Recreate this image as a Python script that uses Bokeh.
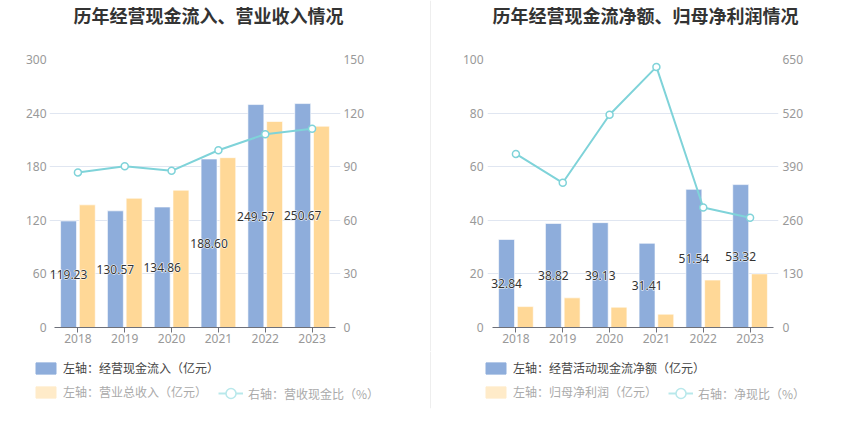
from bokeh.plotting import figure
from bokeh.models import (Range1d, LinearAxis, FixedTicker, FactorRange, ColumnDataSource,
                          Legend, LegendItem, Label, Spacer, Span)
from bokeh.transform import dodge
from bokeh.core.properties import value
from bokeh.layouts import row, column
from bokeh.embed import file_html
from bokeh.resources import INLINE

# ---------------- data ----------------
years = ["2018", "2019", "2020", "2021", "2022", "2023"]

cash_inflow = [119.23, 130.57, 134.86, 188.60, 249.57, 250.67]   # 经营现金流入（亿元）
revenue = [137.3, 144.7, 153.7, 190.1, 230.6, 225.3]              # 营业总收入（亿元）
cash_ratio = [86.8, 90.2, 87.7, 99.2, 108.2, 111.3]               # 营收现金比（%）

net_cash_flow = [32.84, 38.82, 39.13, 31.41, 51.54, 53.32]        # 经营活动现金流净额（亿元）
net_profit = [7.80, 11.06, 7.58, 4.97, 17.70, 20.00]              # 归母净利润（亿元）
net_ratio = [421, 351, 516, 632, 291, 266]                        # 净现比（%）

left_ticks_1 = [0, 60, 120, 180, 240, 300]
right_ticks_1 = [0, 30, 60, 90, 120, 150]
left_ticks_2 = [0, 20, 40, 60, 80, 100]
right_ticks_2 = [0, 130, 260, 390, 520, 650]

title_1 = "历年经营现金流入、营业收入情况"
title_2 = "历年经营现金流净额、归母净利润情况"
legend_1 = ["左轴：经营现金流入（亿元）", "左轴：营业总收入（亿元）", "右轴：营收现金比（%）"]
legend_2 = ["左轴：经营活动现金流净额（亿元）", "左轴：归母净利润（亿元）", "右轴：净现比（%）"]

BLUE = "#8eaddb"
ORANGE = "#ffd897"
CYAN = "#7fd3d9"
FADE_ORANGE = "#ffebc9"
FADE_CYAN = "#b8e8eb"
GRID = "#e0e6f1"
DIVIDER = "#eeeeee"
CJK = "Noto Sans CJK SC"

W = 850
TITLE_H = 40
CHART_H = 311
LEG_H = 86
LEG_BOTTOM = 29
B_TOP = 19
B_BOTTOM = 24
DIV_X = 430
PAD = 0.107          # small outer padding of the category axis (in category units)


def blank_fig(height, x_range, bottom=0):
    f = figure(width=W, height=height, x_range=x_range, y_range=Range1d(0, 1),
               x_axis_type=None, y_axis_type=None, output_backend="svg",
               toolbar_location=None, min_border=0, min_border_left=0,
               min_border_right=0, min_border_top=0, min_border_bottom=bottom)
    f.outline_line_color = None
    f.background_fill_color = "white"
    f.border_fill_color = "white"
    f.add_layout(Span(location=DIV_X, location_units="screen", dimension="height",
                      line_color=DIVIDER, line_width=1))
    return f


def make_chart(width, b_left, b_right, standoff, bars_a, bars_b, ratio, lticks, rticks):
    p = figure(width=width, height=CHART_H,
               x_range=FactorRange(*years, range_padding=PAD, range_padding_units="absolute"),
               y_range=Range1d(lticks[0], lticks[-1]),
               output_backend="svg", toolbar_location=None,
               min_border_left=b_left, min_border_right=b_right,
               min_border_top=B_TOP, min_border_bottom=B_BOTTOM)
    p.outline_line_color = None
    p.background_fill_color = "white"
    p.border_fill_color = "white"
    p.extra_y_ranges = {"right": Range1d(rticks[0], rticks[-1])}

    src = ColumnDataSource(dict(
        year=years, a=bars_a, b=bars_b, r=ratio,
        mid=[v / 2 for v in bars_a],
        lab=[f"{v:.2f}" for v in bars_a],
    ))

    yl = p.yaxis[0]
    yl.ticker = FixedTicker(ticks=lticks)
    ry = LinearAxis(y_range_name="right", ticker=FixedTicker(ticks=rticks))
    p.add_layout(ry, "right")
    for ax in (yl, ry):
        ax.axis_line_color = None
        ax.major_tick_line_color = None
        ax.minor_tick_line_color = None
        ax.major_tick_in = 0
        ax.major_tick_out = 0
        ax.major_label_standoff = standoff
        ax.major_label_text_font_size = "12px"
        ax.major_label_text_color = "#999999"
        ax.major_label_text_font = "Noto Sans"
    xa = p.xaxis[0]
    xa.bounds = (0, len(years))
    xa.axis_line_color = "#6e7079"
    xa.major_tick_line_color = "#6e7079"
    xa.major_tick_in = 0
    xa.major_tick_out = 5
    xa.minor_tick_line_color = None
    xa.major_label_standoff = 1
    xa.major_label_text_font_size = "12px"
    xa.major_label_text_color = "#999999"
    xa.major_label_text_font = "Noto Sans"

    p.xgrid.grid_line_color = None
    p.ygrid.ticker = FixedTicker(ticks=lticks)
    p.ygrid.grid_line_color = GRID

    p.vbar(x=dodge("year", -0.2, range=p.x_range), top="a", width=0.34,
           source=src, fill_color=BLUE, line_color="white", line_alpha=0.6, line_width=1)
    p.vbar(x=dodge("year", 0.2, range=p.x_range), top="b", width=0.34,
           source=src, fill_color=ORANGE, line_color="white", line_alpha=0.6, line_width=1)

    p.line(x="year", y="r", source=src, y_range_name="right", line_color=CYAN, line_width=2)
    p.scatter(x="year", y="r", source=src, y_range_name="right", marker="circle", size=7,
              fill_color="white", line_color=CYAN, line_width=1.5)

    # value labels: white halo underneath, dark text on top
    p.text(x=dodge("year", -0.2, range=p.x_range), y="mid", text="lab", source=src,
           text_font=value("Noto Sans"), text_font_size="12px", text_color="white",
           text_align="center", text_baseline="middle", text_outline_color="white")
    p.text(x=dodge("year", -0.2, range=p.x_range), y="mid", text="lab", source=src,
           text_font=value("Noto Sans"), text_font_size="12px", text_color="#333333",
           text_align="center", text_baseline="middle")
    return p


# ---- title strip ----
tfig = blank_fig(TITLE_H, Range1d(0, 1))
for txt, tx in ((title_1, 73), (title_2, 492)):
    tfig.add_layout(Label(x=tx, y=TITLE_H - 14, x_units="screen", y_units="screen",
                          text=txt, text_font=CJK, text_font_size="18px",
                          text_font_style="bold", text_color="#333333",
                          text_align="left", text_baseline="middle"))

# ---- charts ----
p1 = make_chart(430, 49, 90, 3, cash_inflow, revenue, cash_ratio, left_ticks_1, right_ticks_1)
p2 = make_chart(419, 56, 72, 4, net_cash_flow, net_profit, net_ratio, left_ticks_2, right_ticks_2)
divider = Spacer(width=1, height=CHART_H, styles={"background-color": DIVIDER})

# ---- legend strip (proxy renderers are hidden; they only supply the swatches) ----
lfig = blank_fig(LEG_H, FactorRange(*years), bottom=LEG_BOTTOM)
common = dict(orientation="horizontal", padding=0, margin=0, spacing=16,
              label_standoff=5, glyph_width=25, border_line_color=None,
              background_fill_alpha=0, inactive_fill_alpha=0,
              label_text_font=CJK, label_text_font_size="12px")
for bars_a, bars_b, ratio, labels, lx, line_x in (
        (cash_inflow, revenue, cash_ratio, legend_1, 33, 218),
        (net_cash_flow, net_profit, net_ratio, legend_2, 483, 668)):
    s = ColumnDataSource(dict(year=years, a=bars_a, b=bars_b, r=ratio))
    sa = lfig.vbar(x="year", top="a", width=0.3, source=s, fill_color=BLUE,
                   line_color=BLUE, visible=False)
    sb = lfig.vbar(x="year", top="b", width=0.3, source=s, fill_color=FADE_ORANGE,
                   line_color=FADE_ORANGE, visible=False)
    sl = lfig.line(x="year", y="r", source=s, line_color=FADE_CYAN, line_width=2, visible=False)
    ss = lfig.scatter(x="year", y="r", source=s, marker="circle", size=10, fill_color="white",
                      line_color=FADE_CYAN, line_width=1.5, visible=False)
    lfig.add_layout(Legend(items=[LegendItem(label=labels[0], renderers=[sa])],
                           location=(lx, 32), label_text_color="#464646",
                           glyph_height=14, label_height=14, **common))
    lfig.add_layout(Legend(items=[LegendItem(label=labels[1], renderers=[sb])],
                           location=(lx, 8), label_text_color="#aaaaaa",
                           glyph_height=14, label_height=14, **common))
    lfig.add_layout(Legend(items=[LegendItem(label=labels[2], renderers=[sl, ss])],
                           location=(line_x, 2), label_text_color="#aaaaaa",
                           glyph_height=26, label_height=26, **common))

layout = column(tfig, row(p1, divider, p2), lfig)

open("out.html", "w").write(file_html(layout, INLINE))
